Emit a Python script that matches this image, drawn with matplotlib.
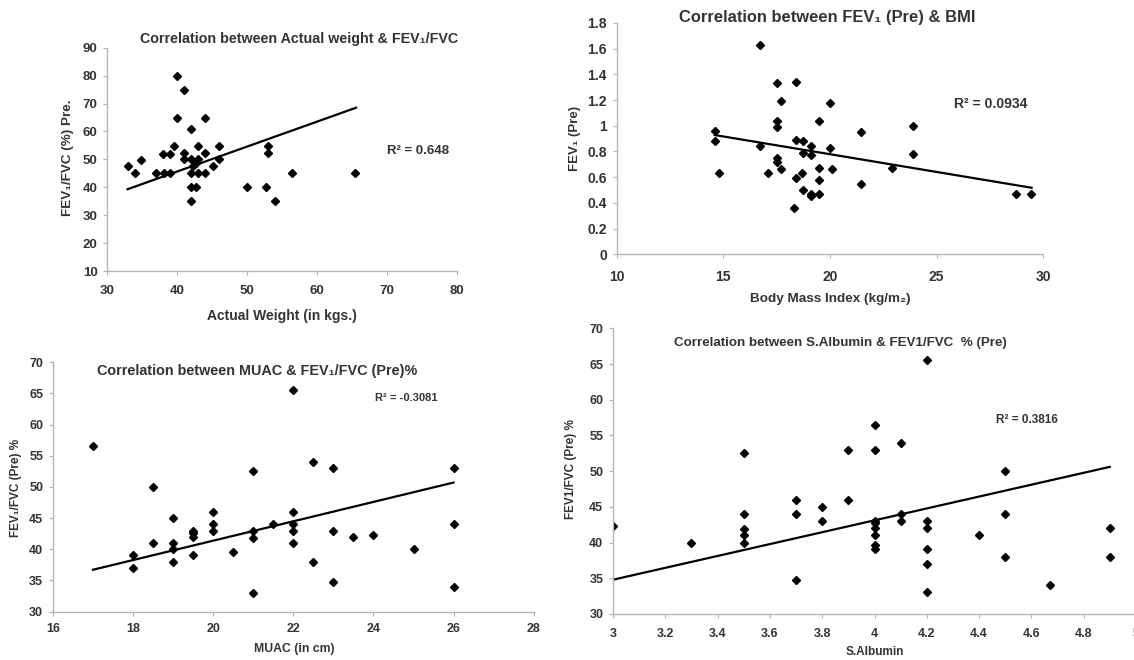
import matplotlib
matplotlib.use("Agg")
import matplotlib.pyplot as plt
from matplotlib.ticker import FuncFormatter

# ---------------- data ----------------
# Panel 1: Actual weight vs FEV1/FVC
weight_x = [33, 34, 34.8, 37, 37.9, 38.1, 39, 39, 39.5, 40, 40, 41, 41, 41, 42, 42, 42, 42, 42,
            42.7, 42.3, 42.7, 43, 43, 43, 44, 44, 44, 45.1, 46, 46, 50, 52.7, 53, 53, 54, 56.5, 65.5]
weight_y = [47.7, 45.1, 49.9, 45.1, 52, 45.1, 52, 45.1, 54.8, 80, 64.8, 75, 52.2, 50, 61, 50, 45.2, 40, 35,
            40, 47.6, 48.8, 54.8, 50, 45.2, 64.8, 52.2, 45.2, 47.6, 54.8, 50, 40, 40, 54.8, 52.2, 35, 45.2, 45.2]
weight_trend_x = [32.9, 65.6]
weight_trend_y = [39.3, 68.5]
weight_r2 = "R² = 0.648"

# Panel 2: BMI vs FEV1 (Pre)
bmi_x = [14.6, 14.6, 14.8, 16.7, 16.7, 17.1, 17.5, 17.5, 17.5, 17.5, 17.5, 17.7, 17.7, 18.4, 18.4, 18.4,
         18.3, 18.75, 18.75, 18.7, 18.75, 19.1, 19.1, 19.1, 19.1, 19.5, 19.5, 19.5, 19.5, 20.0, 20.0, 20.1,
         21.45, 21.45, 22.9, 23.9, 23.9, 28.7, 29.4]
bmi_y = [0.96, 0.88, 0.63, 1.63, 0.84, 0.63, 1.33, 1.04, 0.99, 0.75, 0.72, 1.19, 0.66, 1.34, 0.89, 0.59,
         0.36, 0.88, 0.79, 0.63, 0.50, 0.84, 0.77, 0.47, 0.45, 1.04, 0.67, 0.58, 0.47, 1.18, 0.83, 0.66,
         0.95, 0.55, 0.67, 1.00, 0.78, 0.47, 0.47]
bmi_trend_x = [14.6, 29.45]
bmi_trend_y = [0.928, 0.518]
bmi_r2 = "R² = 0.0934"

# Panel 3: MUAC vs FEV1/FVC (Pre)%
muac_x = [17, 18, 18, 18.5, 18.5, 19, 19, 19, 19, 19.5, 19.5, 19.5, 19.5, 20, 20, 20, 20.5, 21, 21, 21, 21,
          21.5, 22, 22, 22, 22, 22, 22.5, 22.5, 23, 23, 23, 23.5, 24, 25, 26, 26, 26]
muac_y = [56.5, 39, 37, 50, 41, 45, 41, 40, 38, 43, 42.6, 42, 39, 46, 44, 43, 39.5, 52.6, 43, 41.8, 33,
          44, 65.5, 46, 44, 43, 41, 54, 38, 53, 43, 34.7, 42, 42.3, 40, 53, 44, 34]
muac_trend_x = [17.0, 26.0]
muac_trend_y = [36.7, 50.7]
muac_r2 = "R² = -0.3081"

# Panel 4: S.Albumin vs FEV1/FVC % (Pre)
alb_x = [3.0, 3.3, 3.5, 3.5, 3.5, 3.5, 3.5, 3.7, 3.7, 3.7, 3.8, 3.8, 3.9, 3.9, 4.0, 4.0, 4.0, 4.0, 4.0,
         4.0, 4.0, 4.0, 4.1, 4.1, 4.1, 4.2, 4.2, 4.2, 4.2, 4.2, 4.2, 4.4, 4.5, 4.5, 4.5, 4.67, 4.9, 4.9]
alb_y = [42.3, 40, 52.5, 44, 41.9, 41, 40, 46, 44, 34.8, 45, 43, 53, 46, 56.5, 53, 43, 42.7, 42, 41,
         39.6, 39.1, 54, 44, 43, 65.5, 43, 42, 39.1, 37, 33.1, 41, 50, 44, 38, 34, 42, 38]
alb_trend_x = [3.0, 4.9]
alb_trend_y = [34.8, 50.6]
alb_r2 = "R² = 0.3816"

# ---------------- styling ----------------
FAM = ["Liberation Sans", "DejaVu Sans"]
plt.rcParams["font.family"] = FAM
plt.rcParams["font.weight"] = "bold"
TXT = "#333333"
SPINE = "#b4b4b4"

fig = plt.figure(figsize=(11.34, 6.6), dpi=100)
W, H = 1134.0, 660.0


def make_ax(left, right, top, bottom):
    return fig.add_axes([left / W, 1 - bottom / H, (right - left) / W, (bottom - top) / H])


def style(ax, fs, xpad, ypad):
    for s in ("top", "right"):
        ax.spines[s].set_visible(False)
    for s in ("left", "bottom"):
        ax.spines[s].set_color(SPINE)
        ax.spines[s].set_linewidth(1.0)
    ax.tick_params(direction="out", length=3, width=0.8, color=SPINE,
                   labelsize=fs, labelcolor=TXT)
    ax.tick_params(axis="x", pad=xpad)
    ax.tick_params(axis="y", pad=ypad)
    for lab in ax.get_xticklabels() + ax.get_yticklabels():
        lab.set_fontweight("bold")
    ax.set_facecolor("none")


def labels(ax, title, tpos, xlabel, xpos, ylabel, ypos, tfs, xfs, yfs):
    ax.text(tpos[0], tpos[1], title, transform=ax.transAxes, ha="center", va="center",
            fontsize=tfs, fontweight="bold", color=TXT)
    ax.text(xpos[0], xpos[1], xlabel, transform=ax.transAxes, ha="center", va="center",
            fontsize=xfs, fontweight="bold", color=TXT)
    ax.text(ypos[0], ypos[1], ylabel, transform=ax.transAxes, ha="center", va="center",
            rotation=90, fontsize=yfs, fontweight="bold", color=TXT)


gfmt = FuncFormatter(lambda v, p: f"{v:g}")

# ---- Panel 1 ----
ax1 = make_ax(107.3, 456.7, 47.7, 271.0)
ax1.plot(weight_x, weight_y, linestyle="none", marker="D", ms=4.5, color="black")
ax1.plot(weight_trend_x, weight_trend_y, color="black", lw=1.6)
ax1.set_xlim(30, 80)
ax1.set_ylim(10, 90)
ax1.set_xticks(range(30, 81, 10))
ax1.set_yticks(range(10, 91, 10))
style(ax1, 9.5, 7, 4)
ax1.text(70.0, 53.0, weight_r2, ha="left", va="center", fontsize=9.5, fontweight="bold", color=TXT)
labels(ax1, "Correlation between Actual weight & FEV₁/FVC", (0.549, 1.039),
       "Actual Weight (in kgs.)", (0.501, -0.2015),
       "FEV₁/FVC (%) Pre.", (-0.1125, 0.506), 10.3, 10, 9.7)

# ---- Panel 2 ----
ax2 = make_ax(616.7, 1043.3, 23.0, 254.3)
ax2.plot(bmi_x, bmi_y, linestyle="none", marker="D", ms=4.2, color="black")
ax2.plot(bmi_trend_x, bmi_trend_y, color="black", lw=1.6)
ax2.set_xlim(10, 30)
ax2.set_ylim(0, 1.8)
ax2.set_xticks(range(10, 31, 5))
ax2.set_yticks([i * 0.2 for i in range(10)])
ax2.yaxis.set_major_formatter(gfmt)
style(ax2, 10, 8, 4)
ax2.text(25.81, 1.167, bmi_r2, ha="left", va="center", fontsize=10, fontweight="bold", color=TXT)
labels(ax2, "Correlation between FEV₁ (Pre) & BMI", (0.494, 1.0246),
       "Body Mass Index (kg/m₂)", (0.5007, -0.193),
       "FEV₁ (Pre)", (-0.0977, 0.5), 11.9, 9.7, 9.5)

# ---- Panel 3 ----
ax3 = make_ax(52.9, 533.7, 362.3, 611.5)
ax3.plot(muac_x, muac_y, linestyle="none", marker="D", ms=3.8, color="black")
ax3.plot(muac_trend_x, muac_trend_y, color="black", lw=1.6)
ax3.set_xlim(16, 28)
ax3.set_ylim(30, 70)
ax3.set_xticks(range(16, 29, 2))
ax3.set_yticks(range(30, 71, 5))
style(ax3, 9, 5, 4)
ax3.text(24.03, 64.2, muac_r2, ha="left", va="center", fontsize=8, fontweight="bold", color=TXT)
labels(ax3, "Correlation between MUAC & FEV₁/FVC (Pre)%", (0.4245, 0.965),
       "MUAC (in cm)", (0.501, -0.150),
       "FEV₁/FVC (Pre) %", (-0.0767, 0.4976), 10.4, 8.8, 8.5)

# ---- Panel 4 ----
ax4 = make_ax(613.0, 1136.0, 328.3, 614.0)
ax4.plot(alb_x, alb_y, linestyle="none", marker="D", ms=3.6, color="black")
ax4.plot(alb_trend_x, alb_trend_y, color="black", lw=1.6)
ax4.set_xlim(3, 5)
ax4.set_ylim(30, 70)
ax4.set_xticks([3 + 0.2 * i for i in range(11)])
ax4.set_yticks(range(30, 71, 5))
ax4.xaxis.set_major_formatter(gfmt)
style(ax4, 9, 7, 4)
ax4.text(4.466, 57.1, alb_r2, ha="left", va="center", fontsize=8.5, fontweight="bold", color=TXT)
labels(ax4, "Correlation between S.Albumin & FEV1/FVC  % (Pre)", (0.435, 0.9475),
       "S.Albumin", (0.5006, -0.132),
       "FEV1/FVC (Pre) %", (-0.0803, 0.5075), 9.6, 8.5, 8.5)

fig.savefig("out.png", dpi=100, facecolor="white")
